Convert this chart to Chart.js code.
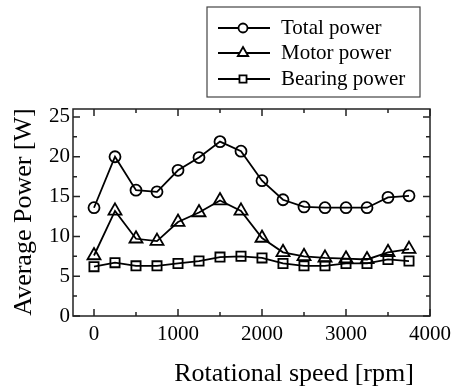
<!DOCTYPE html>
<html><head><meta charset="utf-8">
<script src="https://cdn.jsdelivr.net/npm/chart.js@4/dist/chart.umd.min.js"></script>
<style>html,body{margin:0;padding:0;background:#fff}#wrap{width:457px;height:387px}
.pre{font-family:"Liberation Serif";position:absolute;left:-9999px}</style>
</head><body><span class="pre">0123 Total power</span><div id="wrap"><canvas id="c" width="457" height="387"></canvas></div>
<script>
const speeds = [0,250,500,750,1000,1250,1500,1750,2000,2250,2500,2750,3000,3250,3500,3750];
const totalPower   = [13.6,20.0,15.8,15.6,18.3,19.9,21.9,20.7,17.0,14.6,13.7,13.6,13.6,13.6,14.9,15.1];
const motorPower   = [7.6,13.2,9.7,9.4,11.8,13.0,14.5,13.2,9.8,8.0,7.5,7.3,7.2,7.1,8.0,8.4];
const bearingPower = [6.2,6.7,6.3,6.3,6.6,6.9,7.4,7.5,7.3,6.6,6.3,6.3,6.6,6.6,7.1,6.9];
const seriesNames = ['Total power','Motor power','Bearing power'];
const xTicks = [0,1000,2000,3000,4000];
const xMinor = [500,1500,2500,3500];
const yTicks = [0,5,10,15,20,25];
const yMinor = [2.5,7.5,12.5,17.5,22.5];
const xTitle = 'Rotational speed [rpm]';
const yTitle = 'Average Power [W]';

const FONT = '"Liberation Serif", "Times New Roman", serif';
const styles = [
  {pointStyle:'circle', pointRadius:5.5, legendRadius:4.5},
  {pointStyle:'triangle', pointRadius:7.5, legendRadius:6},
  {pointStyle:'rect', pointRadius:6.5, legendRadius:5}
];
const seriesData = [totalPower, motorPower, bearingPower];
const datasets = seriesData.map((vals,i)=>({
  label: seriesNames[i],
  data: speeds.map((s,j)=>({x:s,y:vals[j]})),
  borderColor:'#000', backgroundColor:'#fff',
  borderWidth:1.8, pointBorderWidth:1.8,
  pointStyle: styles[i].pointStyle,
  pointRadius: styles[i].pointRadius,
  pointBackgroundColor:'rgba(0,0,0,0)',
  pointBorderColor:'#000',
  tension:0, fill:false
}));

const decor = {
  id:'decor',
  afterDraw(chart){
    const ctx = chart.ctx, a = chart.chartArea, xs = chart.scales.x, ys = chart.scales.y;
    ctx.save();
    ctx.strokeStyle = '#222'; ctx.lineWidth = 1.5;
    ctx.strokeRect(a.left, a.top, a.right-a.left, a.bottom-a.top);
    ctx.beginPath();
    const tick = (vals, len, isX) => {
      vals.forEach(v=>{
        if (isX) {
          const p = xs.getPixelForValue(v);
          ctx.moveTo(p, a.bottom); ctx.lineTo(p, a.bottom-len);
          ctx.moveTo(p, a.top); ctx.lineTo(p, a.top+len);
        } else {
          const p = ys.getPixelForValue(v);
          ctx.moveTo(a.left, p); ctx.lineTo(a.left+len, p);
          ctx.moveTo(a.right, p); ctx.lineTo(a.right-len, p);
        }
      });
    };
    tick(xTicks, 7, true); tick(xMinor, 4, true);
    tick(yTicks, 7, false); tick(yMinor, 4, false);
    ctx.stroke();

    // axis titles
    ctx.fillStyle = '#000';
    ctx.font = '26px ' + FONT;
    ctx.textAlign = 'center'; ctx.textBaseline = 'alphabetic';
    ctx.fillText(xTitle, 294, 381);
    ctx.save();
    ctx.translate(31, 212);
    ctx.rotate(-Math.PI/2);
    ctx.fillText(yTitle, 0, 0);
    ctx.restore();

    // legend
    const bx = 207, by = 7, bw = 213, bh = 90;
    ctx.lineWidth = 1.2; ctx.strokeStyle = '#444';
    ctx.strokeRect(bx, by, bw, bh);
    const rows = [28, 53, 79];
    ctx.font = '21px ' + FONT;
    ctx.textAlign = 'left'; ctx.textBaseline = 'middle';
    datasets.forEach((d,i)=>{
      const y = rows[i];
      ctx.strokeStyle = '#000'; ctx.lineWidth = 1.8;
      ctx.beginPath(); ctx.moveTo(218, y); ctx.lineTo(270, y); ctx.stroke();
      ctx.fillStyle = '#fff';
      Chart.helpers.drawPoint(ctx, {pointStyle: styles[i].pointStyle, radius: styles[i].legendRadius, rotation:0, borderWidth:1.8}, 243, y);
      ctx.fillStyle = '#000';
      ctx.fillText(d.label, 281, y);
    });
    ctx.restore();
  }
};

function build(){
  new Chart(document.getElementById('c'), {
    type:'line',
    data:{datasets},
    options:{
      responsive:false, animation:false, devicePixelRatio:1,
      layout:{padding:{top:109,right:25,left:0,bottom:0}},
      plugins:{legend:{display:false}, tooltip:{enabled:false}},
      scales:{
        x:{type:'linear', min:-250, max:4000,
          afterBuildTicks(s){ s.ticks = xTicks.map(v=>({value:v})); },
          afterFit(s){ s.height = 71; },
          grid:{display:false, drawTicks:false}, border:{display:false},
          ticks:{font:{family:FONT,size:21}, color:'#000', padding:6, maxRotation:0, autoSkip:false,
            callback:v=>String(v)}
        },
        y:{type:'linear', min:0, max:26,
          afterBuildTicks(s){ s.ticks = yTicks.map(v=>({value:v})); },
          afterFit(s){ s.width = 73; },
          grid:{display:false, drawTicks:false}, border:{display:false},
          ticks:{font:{family:FONT,size:21}, color:'#000', padding:3, autoSkip:false,
            callback:v=>String(v)}
        }
      }
    },
    plugins:[decor]
  });
}
if (document.fonts && document.fonts.load) {
  Promise.all([document.fonts.load('21px "Liberation Serif"'), document.fonts.load('26px "Liberation Serif"')])
    .then(build, build);
} else { build(); }
</script></body></html>
